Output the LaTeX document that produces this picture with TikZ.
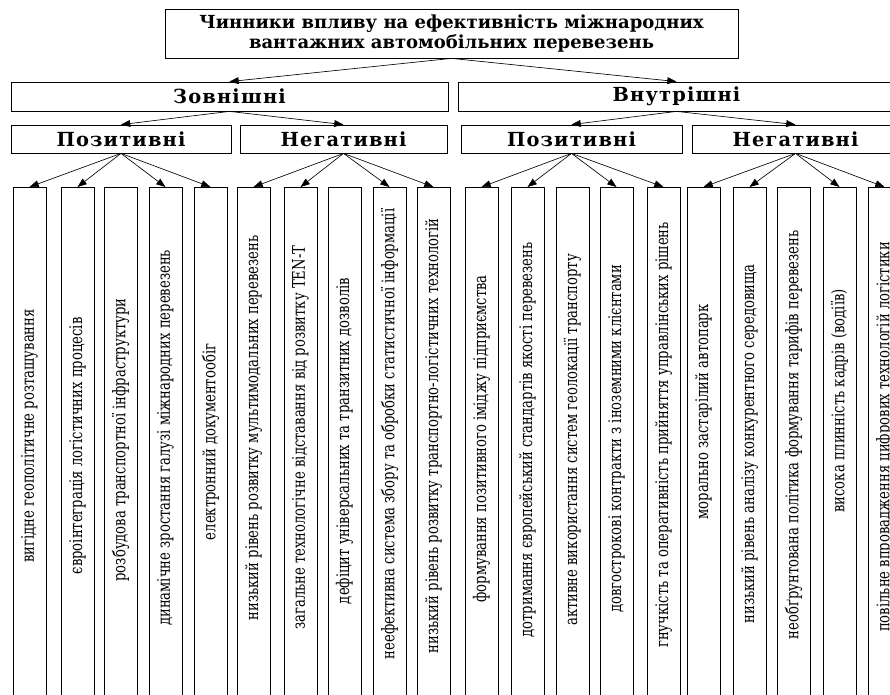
\documentclass[tikz,border=0pt]{standalone}
\usepackage{fontspec}
\setmainfont{DejaVu Serif}
\newfontfamily\headfont[LetterSpace=6]{DejaVu Serif}
\newfontfamily\condfont[FakeStretch=0.84]{DejaVu Serif Condensed}
\usetikzlibrary{arrows.meta}

\begin{document}
\begin{tikzpicture}[
    box/.style={draw, line width=0.020cm, inner sep=0pt},
    titlebox/.style={box, align=center, font=\bfseries\fontsize{12.8}{14.2}\selectfont},
    groupbox/.style={box, font=\headfont\bfseries\fontsize{13.8}{15}\selectfont},
    leafbox/.style={box, anchor=north, minimum width=0.820000cm, minimum height=13.000000cm},
    leaftext/.style={rotate=90, inner sep=0pt, font=\condfont\fontsize{12.4}{14}\selectfont},
    link/.style={line width=0.016cm, -{Triangle[length=0.230000cm,width=0.170000cm]}}
  ]
                \clip (0,0) rectangle (22.250000,17.375000);

                % Drawing title box
                \node [titlebox, minimum width=14.325000cm, minimum height=1.225000cm] (title) at (11.287500,16.537500)
                  {Чинники впливу на ефективність міжнародних\\вантажних автомобільних перевезень};%

                % Drawing boxes of the second level
                \node [groupbox, minimum width=10.925000cm, minimum height=0.725000cm] (ext) at (5.737500,14.962500) {Зовнішні};%
                \node [groupbox, minimum width=10.925000cm, minimum height=0.725000cm] (int) at (16.912500,14.962500) {Внутрішні};%

                % Drawing boxes of the third level
                \node [groupbox, minimum width=5.500000cm, minimum height=0.700000cm] (extpos) at (3.025000,13.900000) {Позитивні};%
                \node [groupbox, minimum width=5.175000cm, minimum height=0.700000cm] (extneg) at (8.587500,13.900000) {Негативні};%
                \node [groupbox, minimum width=5.525000cm, minimum height=0.700000cm] (intpos) at (14.287500,13.900000) {Позитивні};%
                \node [groupbox, minimum width=5.175000cm, minimum height=0.700000cm] (intneg) at (19.887500,13.900000) {Негативні};%

                % Drawing factor boxes
                \node [leafbox] (f1) at (0.737500,12.700000) {};%
                \node [leafbox] (f2) at (1.937500,12.700000) {};%
                \node [leafbox] (f3) at (3.012500,12.700000) {};%
                \node [leafbox] (f4) at (4.137500,12.700000) {};%
                \node [leafbox] (f5) at (5.262500,12.700000) {};%
                \node [leafbox] (f6) at (6.337500,12.700000) {};%
                \node [leafbox] (f7) at (7.512500,12.700000) {};%
                \node [leafbox] (f8) at (8.612500,12.700000) {};%
                \node [leafbox] (f9) at (9.737500,12.700000) {};%
                \node [leafbox] (f10) at (10.837500,12.700000) {};%
                \node [leafbox] (f11) at (12.037500,12.700000) {};%
                \node [leafbox] (f12) at (13.187500,12.700000) {};%
                \node [leafbox] (f13) at (14.312500,12.700000) {};%
                \node [leafbox] (f14) at (15.412500,12.700000) {};%
                \node [leafbox] (f15) at (16.587500,12.700000) {};%
                \node [leafbox] (f16) at (17.587500,12.700000) {};%
                \node [leafbox] (f17) at (18.737500,12.700000) {};%
                \node [leafbox] (f18) at (19.837500,12.700000) {};%
                \node [leafbox] (f19) at (20.987500,12.700000) {};%
                \node [leafbox] (f20) at (22.112500,12.700000) {};%

                % Marking factor texts
                \node [leaftext] (t1) at (0.737500,6.475000) {вигідне геополітичне розташування};%
                \node [leaftext] (t2) at (1.937500,6.225000) {євроінтеграція логістичних процесів};%
                \node [leaftext] (t3) at (3.012500,6.375000) {розбудова транспортної інфраструктури};%
                \node [leaftext] (t4) at (4.137500,6.425000) {динамічне зростання галузі міжнародних перевезень};%
                \node [leaftext] (t5) at (5.262500,6.325000) {електронний документообіг};%
                \node [leaftext] (t6) at (6.337500,6.675000) {низький рівень розвитку мультимодальних перевезень};%
                \node [leaftext] (t7) at (7.512500,6.425000) {загальне технологічне відставання від розвитку TEN-T};%
                \node [leaftext] (t8) at (8.612500,6.350000) {дефіцит універсальних та транзитних дозволів};%
                \node [leaftext] (t9) at (9.737500,6.525000) {неефективна система збору та обробки статистичної інформації};%
                \node [leaftext] (t10) at (10.837500,6.475000) {низький рівень розвитку транспортно-логістичних технологій};%
                \node [leaftext] (t11) at (12.037500,6.400000) {формування позитивного іміджу підприємства};%
                \node [leaftext] (t12) at (13.187500,6.375000) {дотримання європейський стандартів якості перевезень};%
                \node [leaftext] (t13) at (14.312500,6.375000) {активне використання систем геолокації транспорту};%
                \node [leaftext] (t14) at (15.412500,6.400000) {довгострокові контракти з іноземними клієнтами};%
                \node [leaftext] (t15) at (16.587500,6.500000) {гнучкість та оперативність прийняття управлінських рішень};%
                \node [leaftext] (t16) at (17.587500,7.075000) {морально застарілий автопарк};%
                \node [leaftext] (t17) at (18.737500,6.275000) {низький рівень аналізу конкурентного середовища};%
                \node [leaftext] (t18) at (19.837500,6.500000) {необґрунтована політика формування тарифів перевезень};%
                \node [leaftext] (t19) at (20.987500,7.350000) {висока плинність кадрів (водіїв)};%
                \node [leaftext] (t20) at (22.112500,6.450000) {повільне впровадження цифрових технологій логістики};%

                % Drawing arrows from title
                \draw [link] (title.south) -- (ext.north);%
                \draw [link] (title.south) -- (int.north);%

                % Drawing arrows of the second level
                \draw [link] (ext.south) -- (extpos.north);%
                \draw [link] (ext.south) -- (extneg.north);%
                \draw [link] (int.south) -- (intpos.north);%
                \draw [link] (int.south) -- (intneg.north);%

                % Drawing arrows to factor boxes
                \draw [link] (extpos.south) -- (f1.north);%
                \draw [link] (extpos.south) -- (f2.north);%
                \draw [link] (extpos.south) -- (f4.north);%
                \draw [link] (extpos.south) -- (f5.north);%
                \draw [link] (extneg.south) -- (f6.north);%
                \draw [link] (extneg.south) -- (f7.north);%
                \draw [link] (extneg.south) -- (f9.north);%
                \draw [link] (extneg.south) -- (f10.north);%
                \draw [link] (intpos.south) -- (f11.north);%
                \draw [link] (intpos.south) -- (f12.north);%
                \draw [link] (intpos.south) -- (f14.north);%
                \draw [link] (intpos.south) -- (f15.north);%
                \draw [link] (intneg.south) -- (f16.north);%
                \draw [link] (intneg.south) -- (f17.north);%
                \draw [link] (intneg.south) -- (f19.north);%
                \draw [link] (intneg.south) -- (f20.north);%
\end{tikzpicture}
\end{document}
